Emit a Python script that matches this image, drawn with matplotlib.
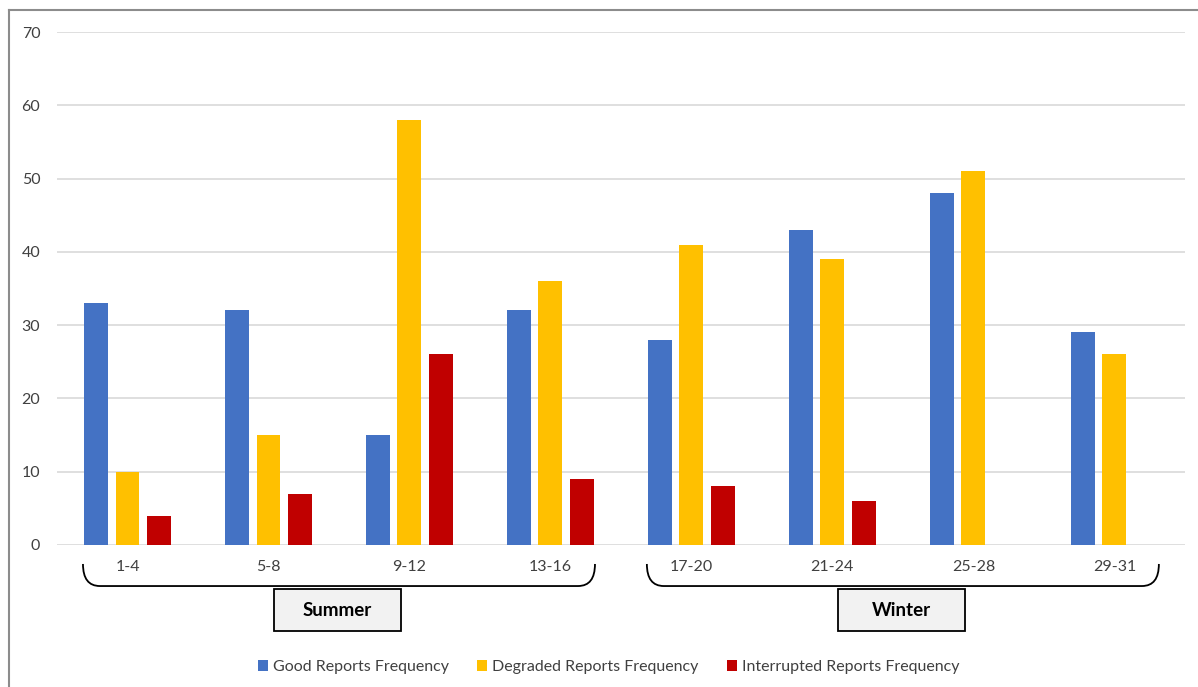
import numpy as np
import matplotlib
matplotlib.use("Agg")
import matplotlib.pyplot as plt
from matplotlib.patches import Patch, Rectangle
from matplotlib.path import Path
from matplotlib.patches import PathPatch
import matplotlib.transforms as mtransforms

categories = ["1-4", "5-8", "9-12", "13-16", "17-20", "21-24", "25-28", "29-31"]
good = [33, 32, 15, 32, 28, 43, 48, 29]
degraded = [10, 15, 58, 36, 41, 39, 51, 26]
interrupted = [4, 7, 26, 9, 8, 6, 0, 0]
seasons = ["Summer", "Winter"]
season_spans = [(0, 3), (4, 7)]

series_names = ["Good Reports Frequency", "Degraded Reports Frequency",
                "Interrupted Reports Frequency"]
colors = ["#4472C4", "#FFC000", "#C00000"]

plt.rcParams['font.family'] = ['Lato', 'DejaVu Sans']

fig = plt.figure(figsize=(11.98, 6.87), dpi=100)
ax = fig.add_axes([0.0476, 0.2067, 0.9414, 0.7467])

x = np.arange(len(categories))
offsets = [-0.223, 0.0, 0.223]
width = 0.17
for vals, off, col, name in zip([good, degraded, interrupted], offsets, colors, series_names):
    ax.bar(x + off, vals, width, color=col, label=name, zorder=2)

ax.set_xlim(-0.5, len(categories) - 0.5)
ax.set_ylim(0, 70)
ax.set_yticks(range(0, 71, 10))
ax.yaxis.grid(True, color="#d9d9d9", linewidth=1.2, zorder=0)
ax.set_axisbelow(True)
for s in ax.spines.values():
    s.set_visible(False)
ax.tick_params(axis="y", length=0, pad=12, labelsize=11.5, labelcolor="#404040")
ax.set_xticks([])

trans = mtransforms.blended_transform_factory(ax.transData, ax.transAxes)

# category labels
for xi, lab in zip(x, categories):
    ax.text(xi, -0.043, lab, transform=trans, ha="center", va="center",
            fontsize=11.5, color="#404040", clip_on=False)

# season brackets and boxes
y_top, y_bot = -0.037, -0.080
for name, (a, b) in zip(seasons, season_spans):
    x0, x1 = a - 0.316, b + 0.316
    r = 0.12
    verts = [(x0, y_top), (x0, y_bot), (x0 + r, y_bot),
             (x1 - r, y_bot),
             (x1, y_bot), (x1, y_top)]
    codes = [Path.MOVETO, Path.CURVE3, Path.CURVE3, Path.LINETO,
             Path.CURVE3, Path.CURVE3]
    ax.add_patch(PathPatch(Path(verts, codes), facecolor="none", edgecolor="black",
                           linewidth=1.3, transform=trans, clip_on=False))
    cx = (a + b) / 2 - 0.01
    bw, bh = 0.9, 0.082
    ax.add_patch(Rectangle((cx - bw / 2, -0.127 - bh / 2), bw, bh, transform=trans,
                           facecolor="#f2f2f2", edgecolor="black", linewidth=1.3,
                           clip_on=False))
    ax.text(cx, -0.127, name, transform=trans, ha="center", va="center",
            fontsize=13.5, fontweight="bold", color="black", clip_on=False)

handles = [Patch(facecolor=c, label=n) for c, n in zip(colors, series_names)]
fig.legend(handles=handles, loc="center", bbox_to_anchor=(0.508, 0.029), ncol=3,
           frameon=False, fontsize=11.5, handlelength=0.65, handleheight=0.65,
           handletextpad=0.3, columnspacing=1.75, labelcolor="#404040")

# outer frame (left and top edges)
fig.add_artist(plt.Line2D([9 / 1198, 9 / 1198], [0, 1 - 10 / 687],
                          transform=fig.transFigure, color="#8c8c8c", linewidth=1.5))
fig.add_artist(plt.Line2D([9 / 1198, 1], [1 - 10 / 687, 1 - 10 / 687],
                          transform=fig.transFigure, color="#8c8c8c", linewidth=1.5))

fig.savefig("out.png", dpi=100)
